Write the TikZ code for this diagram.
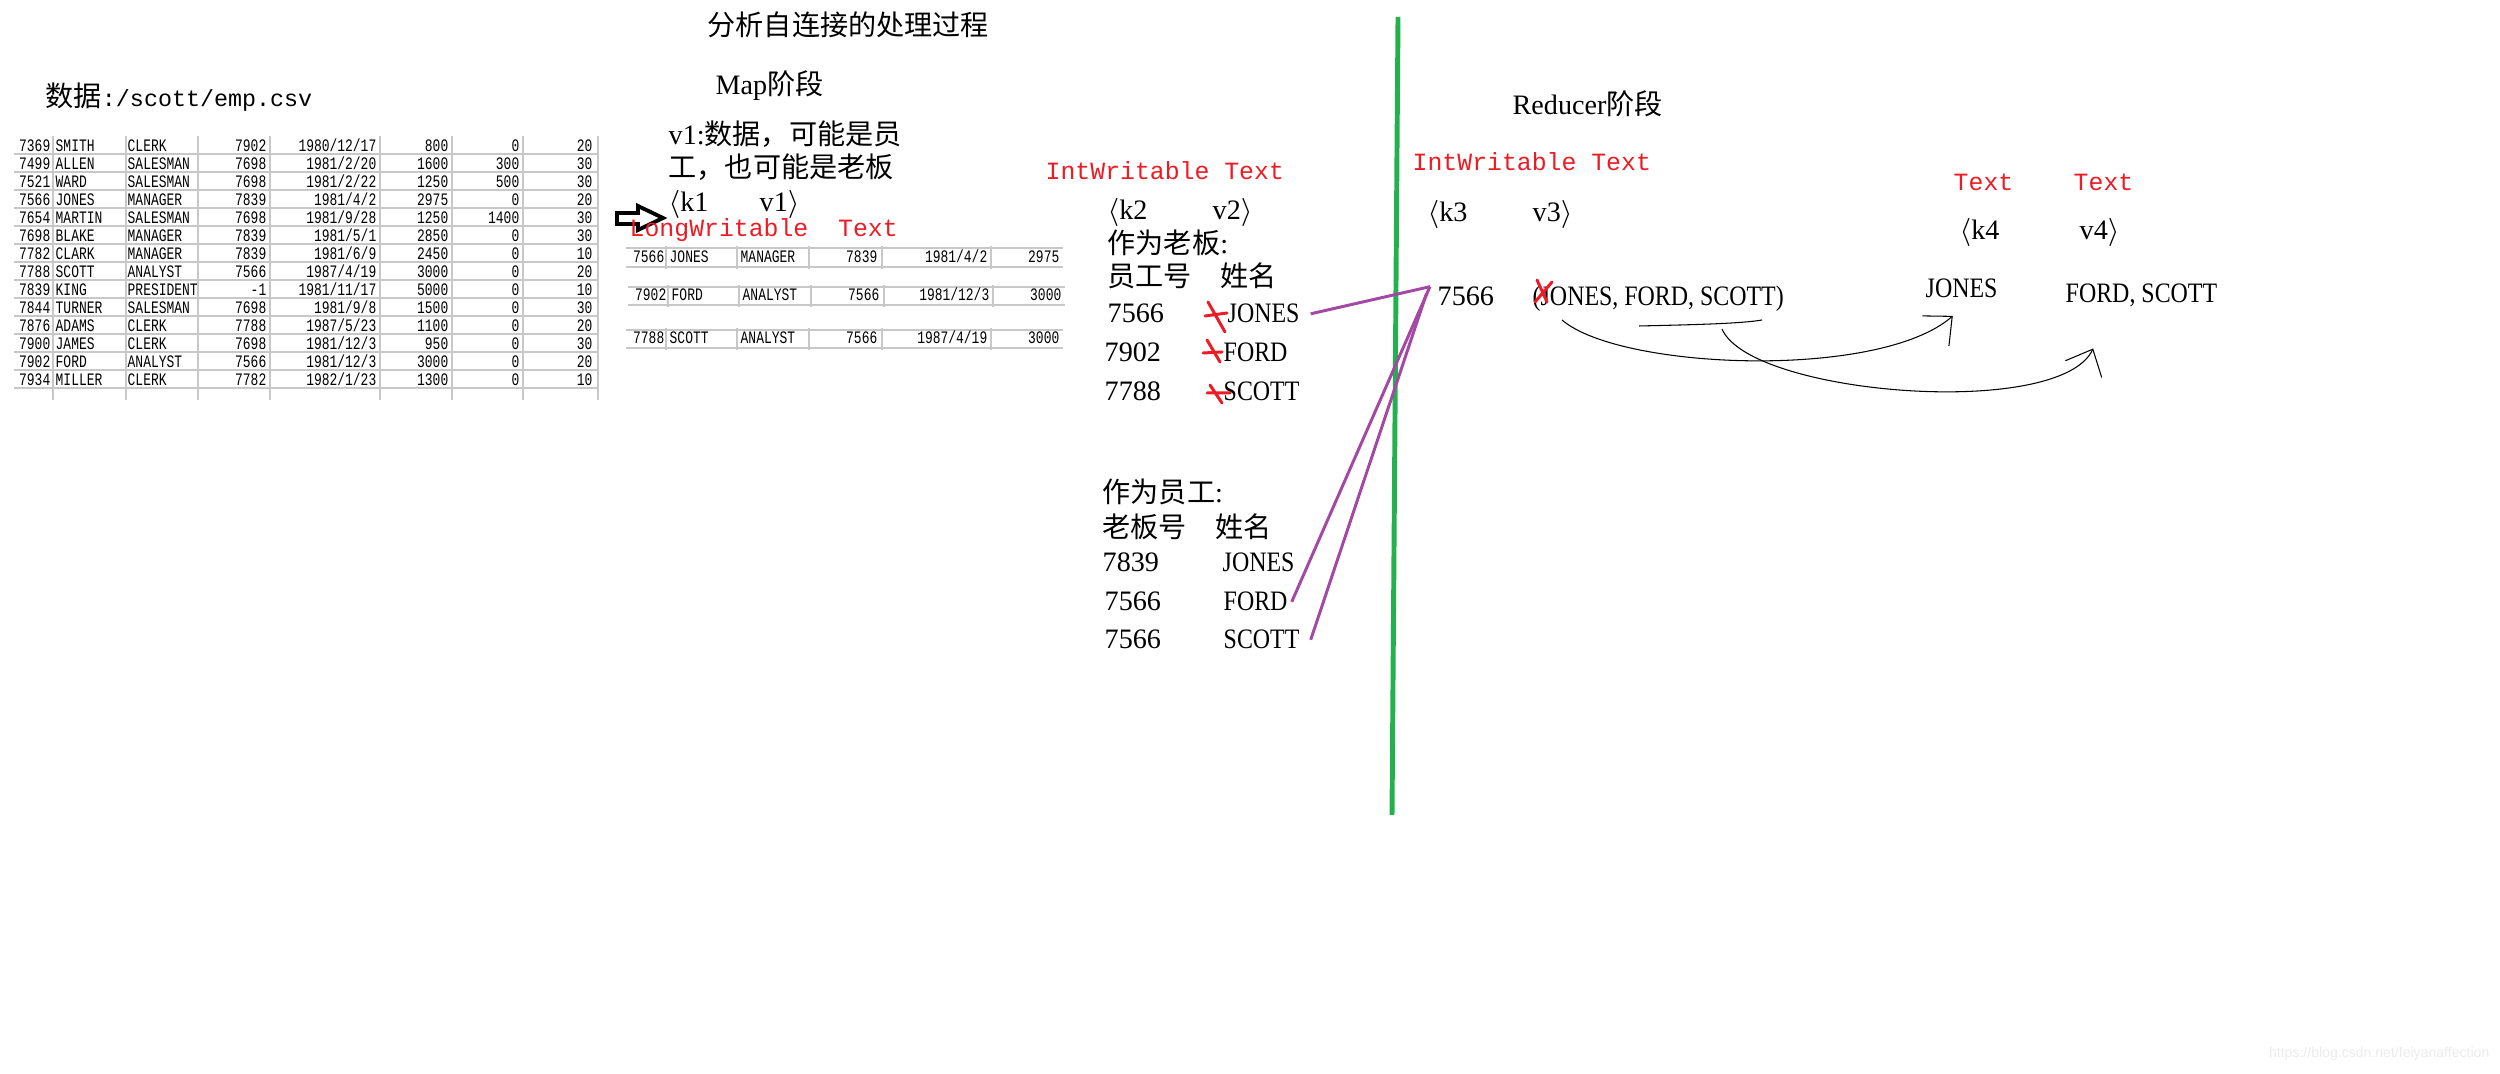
\documentclass[tikz,border=0pt]{standalone}
\usepackage{fontspec}
\usepackage{graphicx}
\setmainfont{Liberation Serif}
\setsansfont{Liberation Sans}
\setmonofont[Scale=0.83]{Liberation Mono}
\newfontfamily\cjk{Noto Sans CJK SC}
\usetikzlibrary{arrows.meta}
\definecolor{paintred}{RGB}{237,28,36}
\definecolor{paintgreen}{RGB}{34,177,76}
\definecolor{paintpurple}{RGB}{163,73,164}
\definecolor{gridgray}{RGB}{200,200,200}
\newcommand{\sqz}[2]{\scalebox{#1}[1]{#2}}

\begin{document}
\begin{tikzpicture}[x=0.01cm,y=-0.01cm,
	txt/.style={inner sep=0pt,anchor=base west,font=\fontsize{8}{9}\selectfont},
	lbl/.style={txt,text=paintred,font=\fontsize{8.5}{9}\selectfont\ttfamily},
	tcell/.style={inner sep=0pt,font=\fontsize{6}{7}\selectfont\ttfamily},
	gridline/.style={gridgray,line width=0.3pt},
	redmark/.style={paintred,line width=0.85pt,line cap=round},
	purpleline/.style={paintpurple,line width=0.85pt},
	hand/.style={line width=0.3pt},
	barb/.style={hand,-{Straight Barb[length=2.2mm,width=4mm]}}]
	\useasboundingbox (0,0) rectangle (2500,1074);

	% emp.csv
	\node[txt] (datapath) at (45,107) {{\cjk 数据}\ttfamily :/scott/emp.csv};
	\foreach \xv in {53,126,198,270,380,452,523,598}
		\draw[gridline] (\xv,136) -- (\xv,400);
	\foreach \eno/\ename/\ejob/\emgr/\edate/\esal/\ecomm/\edept [count=\row from 0] in {
		7369/SMITH/CLERK/7902/{1980/12/17}/800/0/20,
		7499/ALLEN/SALESMAN/7698/{1981/2/20}/1600/300/30,
		7521/WARD/SALESMAN/7698/{1981/2/22}/1250/500/30,
		7566/JONES/MANAGER/7839/{1981/4/2}/2975/0/20,
		7654/MARTIN/SALESMAN/7698/{1981/9/28}/1250/1400/30,
		7698/BLAKE/MANAGER/7839/{1981/5/1}/2850/0/30,
		7782/CLARK/MANAGER/7839/{1981/6/9}/2450/0/10,
		7788/SCOTT/ANALYST/7566/{1987/4/19}/3000/0/20,
		7839/KING/PRESIDENT/-1/{1981/11/17}/5000/0/10,
		7844/TURNER/SALESMAN/7698/{1981/9/8}/1500/0/30,
		7876/ADAMS/CLERK/7788/{1987/5/23}/1100/0/20,
		7900/JAMES/CLERK/7698/{1981/12/3}/950/0/30,
		7902/FORD/ANALYST/7566/{1981/12/3}/3000/0/20,
		7934/MILLER/CLERK/7782/{1982/1/23}/1300/0/10}
	{
		\draw[gridline] (14,154+18*\row) -- (599,154+18*\row);
		\node[tcell,anchor=base east] (eno\row) at (51,151.5+18*\row) {\sqz{0.74}{\eno}};
		\node[tcell,anchor=base west] (ename\row) at (55,151.5+18*\row) {\sqz{0.74}{\ename}};
		\node[tcell,anchor=base west] (ejob\row) at (127,151.5+18*\row) {\sqz{0.74}{\ejob}};
		\node[tcell,anchor=base east] (emgr\row) at (267,151.5+18*\row) {\sqz{0.74}{\emgr}};
		\node[tcell,anchor=base east] (edate\row) at (377,151.5+18*\row) {\sqz{0.74}{\edate}};
		\node[tcell,anchor=base east] (esal\row) at (449,151.5+18*\row) {\sqz{0.74}{\esal}};
		\node[tcell,anchor=base east] (ecomm\row) at (520,151.5+18*\row) {\sqz{0.74}{\ecomm}};
		\node[tcell,anchor=base east] (edept\row) at (593,151.5+18*\row) {\sqz{0.74}{\edept}};
	}

	% Map
	\node[txt] (title) at (707,36) {\cjk 分析自连接的处理过程};
	\node[txt] (mapstage) at (715,95) {Map{\cjk 阶段}};
	\node[txt] (vonea) at (668,145) {v1:{\cjk 数据，可能是员}};
	\node[txt] (voneb) at (668,178) {\cjk 工，也可能是老板};
	\node[txt] (kone) at (668,212) {$\langle$k1};
	\node[txt] (vone) at (759,212) {v1$\rangle$};
	\draw[line width=1.1pt] (617,213) -- (638,213) -- (638,206) -- (663,218) -- (638,230) -- (638,224) -- (617,224) -- cycle;
	\node[lbl] (lwlbl) at (629,237) {LongWritable\ \ Text};
	\foreach \yt/\yb/\dx/\rno/\rname/\rjob/\rmgr/\rdate/\rsal [count=\rr] in {
		248/267/0/7566/JONES/MANAGER/7839/{1981/4/2}/2975,
		287/305/2/7902/FORD/ANALYST/7566/{1981/12/3}/3000,
		330/348/0/7788/SCOTT/ANALYST/7566/{1987/4/19}/3000}
	{
		\draw[gridline] (626+\dx,\yt) -- (1063+\dx,\yt);
		\draw[gridline] (626+\dx,\yb) -- (1063+\dx,\yb);
		\foreach \xv in {666,737,809,882,991}
			\draw[gridline] (\xv+\dx,\yt-2) -- (\xv+\dx,\yb+2);
		\node[tcell,anchor=base east] (rno\rr) at (665+\dx,\yb-4) {\sqz{0.74}{\rno}};
		\node[tcell,anchor=base west] (rname\rr) at (669+\dx,\yb-4) {\sqz{0.74}{\rname}};
		\node[tcell,anchor=base west] (rjob\rr) at (740+\dx,\yb-4) {\sqz{0.74}{\rjob}};
		\node[tcell,anchor=base east] (rmgr\rr) at (878+\dx,\yb-4) {\sqz{0.74}{\rmgr}};
		\node[tcell,anchor=base east] (rdate\rr) at (988+\dx,\yb-4) {\sqz{0.74}{\rdate}};
		\node[tcell,anchor=base east] (rsal\rr) at (1060+\dx,\yb-4) {\sqz{0.74}{\rsal}};
	}

	\node[lbl] (iwlbl) at (1045,180) {IntWritable Text};
	\node[txt] (ktwo) at (1107,220) {$\langle$k2};
	\node[txt] (vtwo) at (1212,220) {v2$\rangle$};
	\node[txt] (asboss) at (1107,254) {{\cjk 作为老板}:};
	\node[txt] (bossno) at (1107,287) {\cjk 员工号};
	\node[txt] (bossnm) at (1220,287) {\cjk 姓名};
	\node[txt] (bnoa) at (1107,323) {7566};
	\node[txt] (bnma) at (1227,323) {\sqz{0.85}{JONES}};
	\node[txt] (bnob) at (1104,362) {7902};
	\node[txt] (bnmb) at (1223,362) {\sqz{0.85}{FORD}};
	\node[txt] (bnoc) at (1104,401) {7788};
	\node[txt] (bnmc) at (1223,401) {\sqz{0.85}{SCOTT}};
	\draw[redmark] (1208,302) -- (1225,332) (1205,316) -- (1227,313);
	\draw[redmark] (1207,340) -- (1220,362) (1203,353) -- (1222,352);
	\draw[redmark] (1210,385) -- (1222,403) (1207,393) -- (1230,393);

	\node[txt] (asemp) at (1102,503) {{\cjk 作为员工}:};
	\node[txt] (empno) at (1102,538) {\cjk 老板号};
	\node[txt] (empnm) at (1215,538) {\cjk 姓名};
	\node[txt] (enoa) at (1102,572) {7839};
	\node[txt] (enma) at (1222,572) {\sqz{0.85}{JONES}};
	\node[txt] (enob) at (1104,611) {7566};
	\node[txt] (enmb) at (1223,611) {\sqz{0.85}{FORD}};
	\node[txt] (enoc) at (1104,649) {7566};
	\node[txt] (enmc) at (1223,649) {\sqz{0.85}{SCOTT}};

	\draw[paintgreen,line width=1.4pt] (1398,17) -- (1392,815);

	% Reducer
	\node[txt] (redstage) at (1512,115) {Reducer{\cjk 阶段}};
	\node[lbl] (iwlblr) at (1412,171) {IntWritable Text};
	\node[txt] (kthree) at (1427,222) {$\langle$k3};
	\node[txt] (vthree) at (1532,222) {v3$\rangle$};
	\node[txt] (rkey) at (1437,306) {7566};
	\node[txt] (rval) at (1532,306) {\sqz{0.85}{(JONES, FORD, SCOTT)}};
	\draw[redmark] (1537,280) -- (1547,302) (1552,282) -- (1535,302);

	\draw[purpleline] ([xshift=3pt]bnma.east) -- ([xshift=-2pt]rkey.north west);
	\draw[purpleline] ([xshift=1pt]enmb.east) -- ([xshift=-2pt]rkey.north west);
	\draw[purpleline] ([xshift=3pt]enmc.east) -- ([xshift=-3pt,yshift=-2pt]rkey.north west);

	\node[lbl] (tlblk) at (1953,191) {Text};
	\node[lbl] (tlblv) at (2073,191) {Text};
	\node[txt] (kfour) at (1959,240) {$\langle$k4};
	\node[txt] (vfour) at (2079,240) {v4$\rangle$};
	\node[txt] (okey) at (1925,298) {\sqz{0.85}{JONES}};
	\node[txt] (oval) at (2065,303) {\sqz{0.85}{FORD, SCOTT}};

	\coordinate (hstarta) at (1562,320);
	\coordinate (hstartb) at (1722,329);
	\draw[hand] (1639,326) .. controls (1680,325) and (1740,324) .. (1762,320);
	\draw[barb] (hstarta) .. controls (1620,370) and (1880,380) .. ([xshift=-2.5pt,yshift=-4.8pt]okey.south);
	\draw[barb] (hstartb) .. controls (1750,395) and (2060,420) .. ([xshift=8pt,yshift=-11.5pt]oval.south west);

	\node[inner sep=0pt,anchor=base east,font=\fontsize{4}{5}\selectfont\sffamily,text=black!8] (wmark) at (2490,1058) {https://blog.csdn.net/feiyanaffection};
\end{tikzpicture}
\end{document}
